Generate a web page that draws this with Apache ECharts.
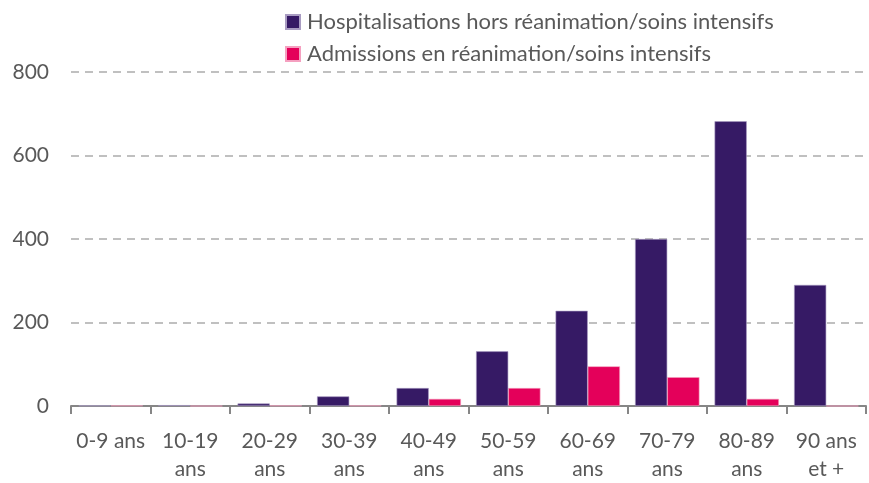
<!DOCTYPE html>
<html>
<head>
<meta charset="utf-8">
<script src="https://cdn.jsdelivr.net/npm/echarts@6/dist/echarts.min.js"></script>
<style>
  html, body { margin: 0; padding: 0; background: #fff; }
  #main { width: 869px; height: 483px; }
</style>
</head>
<body>
<div id="main"></div>
<script type="text/javascript">
  // tranches d'âge
  var categories = ['0-9 ans', '10-19\nans', '20-29\nans', '30-39\nans', '40-49\nans',
                    '50-59\nans', '60-69\nans', '70-79\nans', '80-89\nans', '90 ans\net +'];
  var hospit = [1, 2, 6, 23, 43, 131, 228, 400, 682, 290];
  var rea = [1, 0, 1, 1, 17, 43, 95, 69, 17, 0];
  var yTicks = [0, 200, 400, 600, 800];

  var chart = echarts.init(document.getElementById('main'));
  var font = 'Lato, "Open Sans", sans-serif';

  chart.setOption({
    animation: false,
    textStyle: { fontFamily: font },
    legend: {
      orient: 'vertical',
      left: 280,
      top: 6,
      itemWidth: 14,
      itemHeight: 14,
      itemGap: 10,
      icon: 'rect',
      textStyle: { fontSize: 22, color: '#595959', fontFamily: font, padding: [0, 0, 0, 2] },
      data: ['Hospitalisations hors réanimation/soins intensifs', 'Admissions en réanimation/soins intensifs']
    },
    grid: { left: 71, right: 3, top: 72, bottom: 77 },
    xAxis: {
      type: 'category',
      data: categories,
      axisLine: { lineStyle: { color: '#868686', width: 2 } },
      axisTick: { show: true, length: 8, lineStyle: { color: '#868686', width: 2 } },
      axisLabel: { fontSize: 21, color: '#595959', margin: 21, lineHeight: 28, fontFamily: font, interval: 0 }
    },
    yAxis: {
      type: 'value',
      min: yTicks[0],
      max: yTicks[yTicks.length - 1],
      interval: 200,
      axisLine: { show: false },
      axisTick: { show: false },
      axisLabel: { fontSize: 21, color: '#595959', margin: 22, fontFamily: font },
      splitLine: { lineStyle: { color: '#c0c0c0', type: [8, 6], width: 2 } }
    },
    series: [
      {
        name: 'Hospitalisations hors réanimation/soins intensifs',
        type: 'bar',
        data: hospit,
        barGap: '0%',
        barCategoryGap: '19%',
        itemStyle: { color: '#361a65', borderColor: '#a99cc2', borderWidth: 0.6 }
      },
      {
        name: 'Admissions en réanimation/soins intensifs',
        type: 'bar',
        data: rea,
        itemStyle: { color: '#e4005a', borderColor: '#f5a0c0', borderWidth: 0.6 }
      }
    ]
  });
</script>
</body>
</html>
